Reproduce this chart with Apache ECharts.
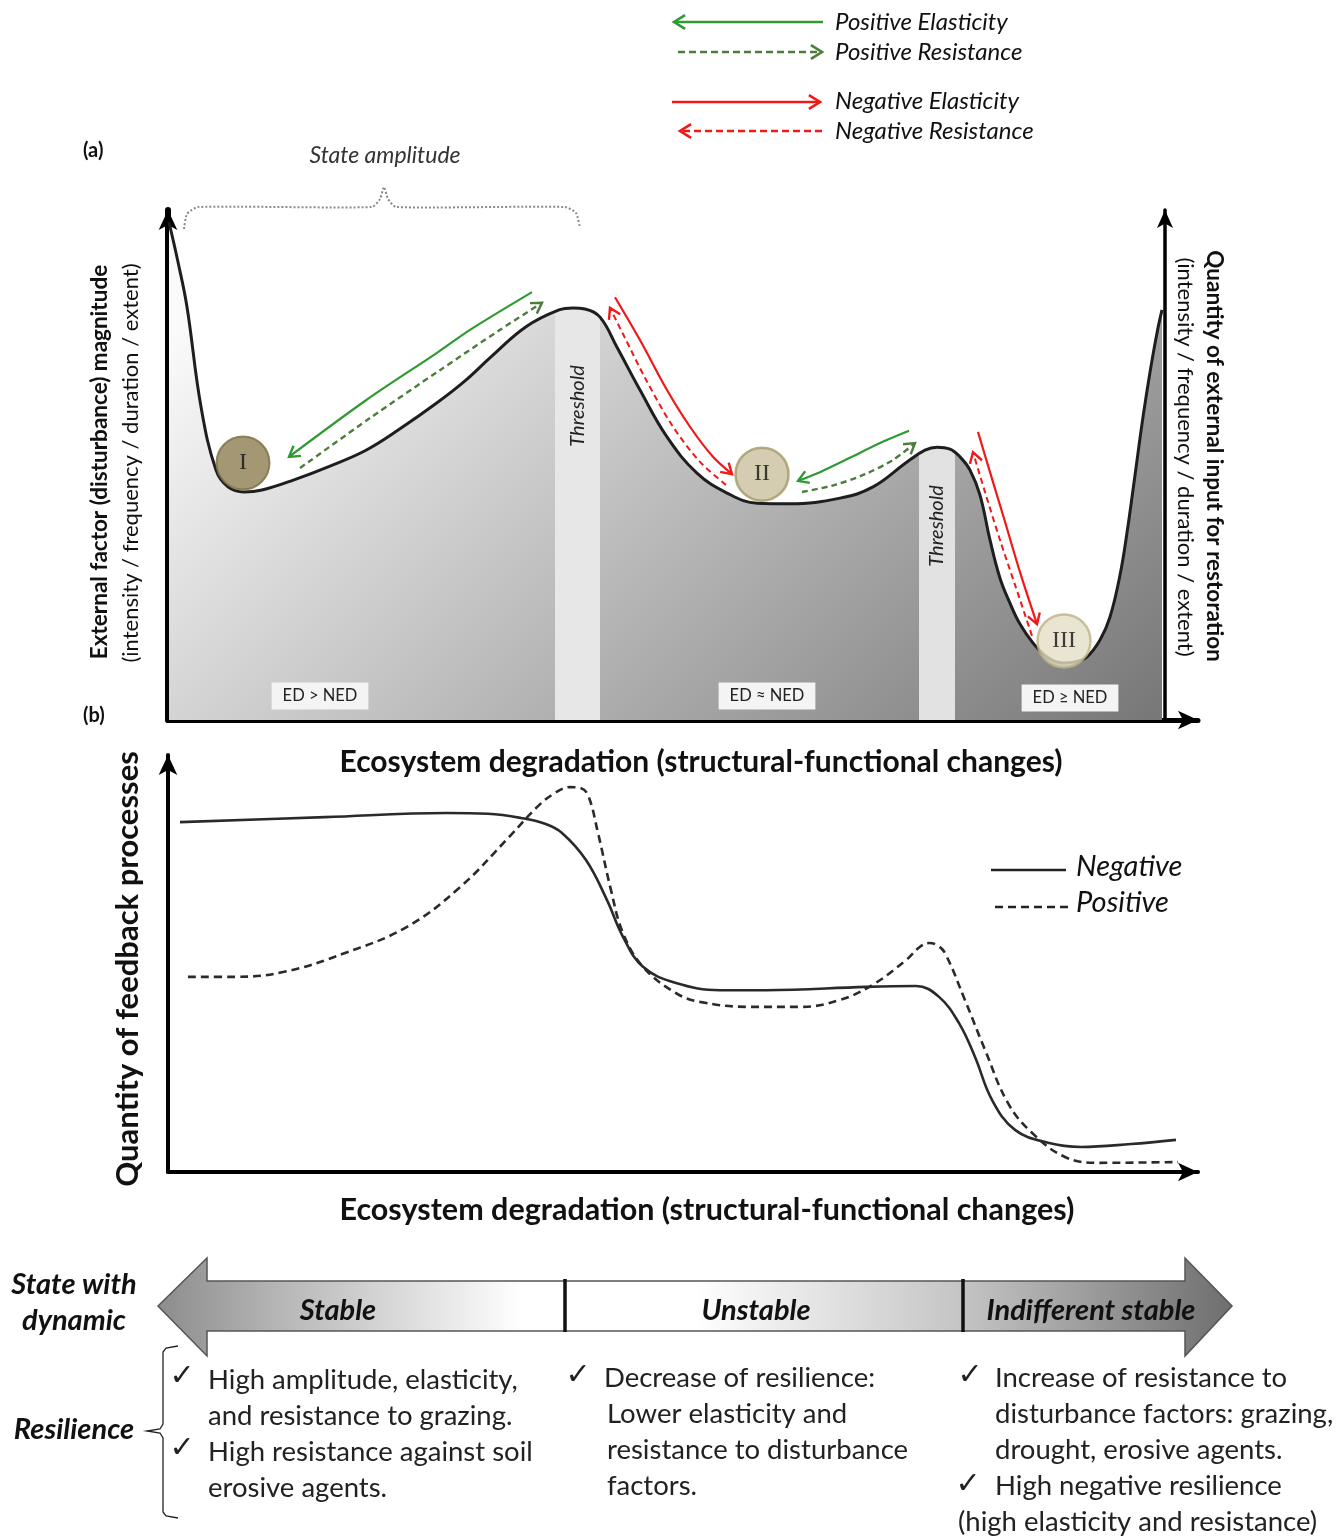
<!DOCTYPE html>
<html><head><meta charset="utf-8">
<script src="https://cdn.jsdelivr.net/npm/echarts@6/dist/echarts.min.js"></script>
<style>html,body{margin:0;padding:0;background:#fff}#c{width:1341px;height:1537px}</style>
</head><body><div id="c"></div>
<script>
// ---------- DATA (x: degradation 0-103, y: magnitude 0-100) ----------
const LANDSCAPE = [[0.1,97.6],[1.0,89.8],[1.9,81.0],[3.3,61.4],[4.8,49.0],[6.0,45.7],[7.6,44.7],[9.4,45.1],[12.6,47.1],[16.2,49.8],[19.8,52.9],[23.2,57.1],[26.9,62.2],[29.7,66.5],[32.3,71.2],[35.8,77.1],[39.1,80.4],[40.5,80.8],[41.7,80.6],[43.2,79.0],[44.9,73.1],[47.2,64.7],[49.9,55.5],[52.9,48.4],[55.9,44.5],[58.9,42.5],[62.2,42.4],[67.2,43.5],[70.5,45.7],[73.9,50.6],[75.7,52.9],[76.9,53.5],[78.2,53.1],[79.2,51.6],[80.2,49.0],[81.2,44.1],[82.2,35.3],[83.2,27.8],[84.2,22.9],[85.2,18.8],[86.5,15.1],[88.0,12.2],[89.5,11.2],[90.7,11.4],[91.9,12.4],[93.2,15.7],[94.2,20.2],[95.2,28.4],[95.9,36.7],[96.7,48.0],[97.5,59.4],[98.2,68.2],[98.9,75.9],[99.4,80.4]];
const THRESHOLDS = [[38.7,43.2],[75.1,78.7]];
const BALLS = [[7.5,50.4,'I'],[59.4,48.2,'II'],[89.6,15.5,'III']];
const ED_LABELS = ['ED > NED','ED ≈ NED','ED ≥ NED'];
const POS_ELASTICITY_1 = [[36.4,83.9],[30.2,76.5],[26.9,72.0],[19.8,62.7],[12.1,51.6]];
const POS_RESISTANCE_1 = [[13.2,49.4],[20.2,59.2],[27.2,68.6],[33.2,76.5],[37.4,81.8]];
const NEG_ELASTICITY_1 = [[44.7,82.9],[47.2,74.5],[49.9,64.7],[52.2,57.5],[54.5,51.6],[56.4,48.2]];
const NEG_RESISTANCE_1 = [[55.8,46.1],[53.2,50.6],[50.4,57.8],[47.7,67.1],[45.7,74.9],[44.2,80.8]];
const POS_ELASTICITY_2 = [[74.1,56.7],[71.2,54.3],[68.2,51.4],[65.2,48.6],[63.0,46.9]];
const POS_RESISTANCE_2 = [[63.4,44.7],[66.7,46.1],[69.7,48.2],[72.5,51.0],[74.7,54.3]];
const NEG_ELASTICITY_2 = [[81.0,56.5],[82.2,48.6],[83.5,40.2],[85.2,29.0],[86.9,18.8]];
const NEG_RESISTANCE_2 = [[86.4,16.5],[84.7,26.5],[83.2,35.3],[81.7,44.7],[80.5,52.5]];
const NEGATIVE_FEEDBACK = [[1.2,83.9],[15.7,85.1],[27.9,86.1],[32.0,85.9],[35.3,84.9],[37.7,83.5],[39.4,81.3],[41.8,74.8],[43.9,65.2],[45.5,56.4],[47.5,49.2],[50.8,45.3],[55.2,43.6],[59.8,43.6],[69.8,44.4],[74.8,44.6],[77.1,42.0],[79.1,35.7],[80.7,27.6],[82.4,17.3],[84.7,10.1],[88.0,7.0],[91.3,6.0],[96.3,6.7],[100.8,7.7]];
const POSITIVE_FEEDBACK = [[2.0,46.8],[6.7,46.8],[11.6,48.0],[17.7,52.5],[23.9,58.8],[29.2,68.3],[34.1,80.3],[36.9,87.5],[38.7,90.9],[40.2,92.3],[41.2,92.1],[42.0,90.4],[43.0,81.3],[44.3,67.6],[45.5,57.3],[47.5,49.2],[50.8,42.9],[53.2,40.8],[58.2,39.6],[63.2,39.6],[67.1,41.2],[70.4,44.8],[73.8,50.8],[75.2,54.0],[76.1,54.9],[76.9,54.4],[77.7,52.5],[79.7,41.2],[81.7,29.3],[84.0,16.5],[86.4,9.4],[89.7,3.6],[93.0,2.2],[101.0,2.4]];
const STATES = ['Stable','Unstable','Indifferent stable'];

const GREEN = '#2f9a33', DGREEN = '#4d7c3c', RED = '#f01818';
const ARROWS = [
  {pts: POS_ELASTICITY_1, color: GREEN, dash: null, w: 2.2},
  {pts: POS_RESISTANCE_1, color: DGREEN, dash: [6,4], w: 2.4},
  {pts: NEG_ELASTICITY_1, color: RED, dash: null, w: 2.2},
  {pts: NEG_RESISTANCE_1, color: RED, dash: [6,4], w: 2},
  {pts: POS_ELASTICITY_2, color: GREEN, dash: null, w: 2.2},
  {pts: POS_RESISTANCE_2, color: DGREEN, dash: [6,4], w: 2.4},
  {pts: NEG_ELASTICITY_2, color: RED, dash: null, w: 2.2},
  {pts: NEG_RESISTANCE_2, color: RED, dash: [6,4], w: 2}
];

const SANS = 'Lato, "Open Sans", sans-serif';
const chart = echarts.init(document.getElementById('c'));

function head(end, prev, L) {
  const ang = Math.atan2(end[1]-prev[1], end[0]-prev[0]);
  const W = 0.55;
  return [[end[0]-L*Math.cos(ang-W), end[1]-L*Math.sin(ang-W)], end, [end[0]-L*Math.cos(ang+W), end[1]-L*Math.sin(ang+W)]];
}
function T(x, y, text, font, o) {
  o = o || {};
  return {type:'text', x:x, y:y, rotation:o.rot||0, z:100,
    style:{text:text, x:0, y:0, font:font, fill:o.fill||'#111',
      align:o.align||'center', textAlign:o.align||'center',
      verticalAlign:o.va||'middle', textVerticalAlign:o.va||'middle',
      backgroundColor:o.bg, padding:o.pad}};
}
function legArrow(x1, y1, x2, y2, color, dash, w) {
  return {type:'group', z:100, children:[
    {type:'line', shape:{x1:x1,y1:y1,x2:x2,y2:y2}, style:{stroke:color, lineWidth:w, lineDash:dash}},
    {type:'polyline', shape:{points:head([x2,y2],[x1,y1],13)}, style:{stroke:color, lineWidth:w, fill:null}}
  ]};
}

const graphics = [
  legArrow(823,22,674,22,GREEN,null,2.6),
  legArrow(678,52,822,52,DGREEN,[7,4],2.6),
  legArrow(672,102,820,102,RED,null,2.6),
  legArrow(822,131,680,131,RED,[7,4],2.6),
  T(835,22,'Positive Elasticity','italic 24px '+SANS,{align:'left'}),
  T(835,52,'Positive Resistance','italic 24px '+SANS,{align:'left'}),
  T(835,101,'Negative Elasticity','italic 24px '+SANS,{align:'left'}),
  T(835,131,'Negative Resistance','italic 24px '+SANS,{align:'left'}),
  T(83,151,'(a)','bold 20px '+SANS,{align:'left'}),
  T(83,716,'(b)','bold 20px '+SANS,{align:'left'}),
  T(385,156,'State amplitude','italic 23px '+SANS,{fill:'#333'}),
  {type:'polyline', z:100, shape:{points:[[184,229],[187,214],[198,207],[372,207],[380,199],[384,187],[388,199],[396,207],[565,207],[576,213],[580,228]], smooth:0.2},
    style:{stroke:'#8a8a8a', lineWidth:2, lineDash:[2,2], fill:null}},
  T(100,462,'External factor (disturbance) magnitude','bold 22.5px '+SANS,{rot:Math.PI/2}),
  T(131,463,'(intensity / frequency / duration / extent)','22px '+SANS,{rot:Math.PI/2}),
  T(1214,456,'Quantity of external input for restoration','bold 22.5px '+SANS,{rot:-Math.PI/2}),
  T(1185,457,'(intensity / frequency / duration / extent)','22px '+SANS,{rot:-Math.PI/2}),
  T(578,406,'Threshold','italic 20px '+SANS,{rot:Math.PI/2,fill:'#222'}),
  T(937,526,'Threshold','italic 20px '+SANS,{rot:Math.PI/2,fill:'#222'}),
  T(320,696,ED_LABELS[0],'16.5px '+SANS,{bg:'#f4f4f4',pad:[5,11],fill:'#222'}),
  T(767,696,ED_LABELS[1],'16.5px '+SANS,{bg:'#f4f4f4',pad:[5,11],fill:'#222'}),
  T(1070,698,ED_LABELS[2],'16.5px '+SANS,{bg:'#f4f4f4',pad:[5,11],fill:'#222'}),
  T(701,762,'Ecosystem degradation (structural-functional changes)','bold 30px '+SANS),
  T(707,1210,'Ecosystem degradation (structural-functional changes)','bold 30.5px '+SANS),
  T(128,969,'Quantity of feedback processes','bold 31px '+SANS,{rot:Math.PI/2}),
  {type:'line', z:100, shape:{x1:991,y1:870,x2:1066,y2:870}, style:{stroke:'#222',lineWidth:2.5}},
  {type:'line', z:100, shape:{x1:995,y1:907,x2:1068,y2:907}, style:{stroke:'#222',lineWidth:2.5,lineDash:[8,5]}},
  T(1076,867,'Negative','italic 29px '+SANS,{align:'left'}),
  T(1076,903,'Positive','italic 29px '+SANS,{align:'left'}),
  // big state arrow
  {type:'polygon', z:100, shape:{points:[[158,1306],[207,1258],[207,1281],[1185,1281],[1185,1258],[1232,1306],[1185,1356],[1185,1331],[207,1331],[207,1356]]},
    style:{stroke:'#555', lineWidth:1.5, fill:{type:'linear',x:0,y:0,x2:1,y2:0,colorStops:[
      {offset:0,color:'#8c8c8c'},{offset:0.12,color:'#b8b8b8'},{offset:0.34,color:'#ffffff'},{offset:0.5,color:'#ffffff'},{offset:0.75,color:'#c4c4c4'},{offset:1,color:'#6e6e6e'}]}}},
  {type:'line', z:101, shape:{x1:565,y1:1279,x2:565,y2:1332}, style:{stroke:'#111',lineWidth:3.5}},
  {type:'line', z:101, shape:{x1:963,y1:1279,x2:963,y2:1332}, style:{stroke:'#111',lineWidth:3.5}},
  T(338,1311,STATES[0],'italic bold 29px '+SANS),
  T(756,1311,STATES[1],'italic bold 29px '+SANS),
  T(1091,1311,STATES[2],'italic bold 29px '+SANS),
  T(74,1285,'State with','italic bold 29px '+SANS),
  T(74,1321,'dynamic','italic bold 29px '+SANS),
  T(74,1430,'Resilience','italic bold 29px '+SANS),
  {type:'polyline', z:100, shape:{points:[[178,1346],[166,1348],[163,1352],[163,1424],[160,1429],[147,1431],[160,1433],[163,1438],[163,1512],[166,1516],[178,1518]]},
    style:{stroke:'#222', lineWidth:1.3, fill:null}}
];
const BUL = '27.5px '+SANS;
const bullets = [
  [182,1377,'✓',true],[208,1380,'High amplitude, elasticity,'],[208,1416,'and resistance to grazing.'],
  [182,1449,'✓',true],[208,1452,'High resistance against soil'],[208,1488,'erosive agents.'],
  [578,1376,'✓',true],[604,1378,'Decrease of resilience:'],[607,1414,'Lower elasticity and'],[607,1450,'resistance to disturbance'],[607,1486,'factors.'],
  [970,1376,'✓',true],[995,1378,'Increase of resistance to'],[995,1414,'disturbance factors: grazing,'],[995,1450,'drought, erosive agents.'],
  [968,1485,'✓',true],[995,1486,'High negative resilience'],[958,1522,'(high elasticity and resistance)']
];
bullets.forEach(b => graphics.push(T(b[0], b[1], b[2], b[3] ? '30px "DejaVu Sans"' : BUL, {align: b[3]?'center':'left', fill:'#222'})));

const pieces = [{lt:THRESHOLDS[0][0], color:'rgba(0,0,0,0)'}];
THRESHOLDS.forEach((t,i) => {
  pieces.push({gte:t[0], lt:t[1], color: i===0 ? '#e7e7e7' : '#e2e2e2'});
  pieces.push(i < THRESHOLDS.length-1 ? {gte:t[1], lt:THRESHOLDS[i+1][0], color:'rgba(0,0,0,0)'} : {gte:t[1], color:'rgba(0,0,0,0)'});
});

const noAxisBits = {axisTick:{show:false}, axisLabel:{show:false}, splitLine:{show:false}};
const SM = 0.4;
chart.setOption({
  animation:false,
  backgroundColor:'#fff',
  grid:[{left:168, top:210, width:1030, height:510}, {left:168, top:755, width:1030, height:417}],
  xAxis:[
    Object.assign({type:'value', gridIndex:0, min:0, max:103, axisLine:{symbol:['none','arrow'], symbolSize:[14,20], lineStyle:{color:'#000', width:5}}}, noAxisBits),
    Object.assign({type:'value', gridIndex:1, min:0, max:103, axisLine:{symbol:['none','arrow'], symbolSize:[14,20], lineStyle:{color:'#000', width:4}}}, noAxisBits)
  ],
  yAxis:[
    Object.assign({type:'value', gridIndex:0, min:0, max:100, axisLine:{symbol:['none','arrow'], symbolSize:[14,20], lineStyle:{color:'#000', width:6}}}, noAxisBits),
    Object.assign({type:'value', gridIndex:0, min:0, max:100, position:'right', offset:-33, axisLine:{show:true, symbol:['none','arrow'], symbolSize:[12,18], lineStyle:{color:'#000', width:3.5}}}, noAxisBits),
    Object.assign({type:'value', gridIndex:1, min:0, max:100, axisLine:{symbol:['none','arrow'], symbolSize:[14,20], lineStyle:{color:'#000', width:4}}}, noAxisBits)
  ],
  visualMap:[{type:'piecewise', show:false, seriesIndex:1, dimension:0, pieces:pieces}],
  series:[
    {type:'line', xAxisIndex:0, yAxisIndex:0, data:LANDSCAPE, smooth:SM, showSymbol:false, z:1,
      lineStyle:{width:0, opacity:0},
      areaStyle:{opacity:1, color:{type:'linear', x:233, y:279, x2:933, y2:1024, global:true,
        colorStops:[{offset:0,color:'#fafafa'},{offset:1,color:'#6e6e6e'}]}}},
    {type:'line', xAxisIndex:0, yAxisIndex:0, data:LANDSCAPE, smooth:SM, showSymbol:false, z:2,
      lineStyle:{width:0, opacity:0}, areaStyle:{opacity:1}},
    {type:'line', xAxisIndex:0, yAxisIndex:0, data:LANDSCAPE, smooth:SM, showSymbol:false, z:3,
      lineStyle:{color:'#1e1e1e', width:3}},
    {type:'custom', xAxisIndex:0, yAxisIndex:0, z:4, data:ARROWS.map(a => a.pts[0]),
      renderItem:function(params, api){
        const a = ARROWS[params.dataIndex];
        const pts = a.pts.map(p => api.coord(p));
        const n = pts.length;
        return {type:'group', children:[
          {type:'polyline', shape:{points:pts, smooth:0.3}, style:{stroke:a.color, lineWidth:a.w, lineDash:a.dash, fill:null}},
          {type:'polyline', shape:{points:head(pts[n-1], pts[n-2], 12)}, style:{stroke:a.color, lineWidth:2.4, fill:null}}
        ]};
      }},
    {type:'scatter', xAxisIndex:0, yAxisIndex:0, z:5, symbolSize:53,
      data:[
        {value:BALLS[0], itemStyle:{color:'#8c7e50', borderColor:'#7b6d40', borderWidth:2}},
        {value:BALLS[1], itemStyle:{color:'#c9c19d', borderColor:'#a39866', borderWidth:2.5}},
        {value:BALLS[2], itemStyle:{color:'#e3dfc6', borderColor:'#bbb386', borderWidth:2.5}}
      ],
      label:{show:true, position:'inside', formatter:p => p.value[2], color:'#111', fontFamily:'"Liberation Serif", serif', fontSize:24}},
    {type:'line', xAxisIndex:1, yAxisIndex:2, data:NEGATIVE_FEEDBACK, smooth:0.4, showSymbol:false,
      lineStyle:{color:'#2a2a2a', width:2.6}},
    {type:'line', xAxisIndex:1, yAxisIndex:2, data:POSITIVE_FEEDBACK, smooth:0.4, showSymbol:false,
      lineStyle:{color:'#2a2a2a', width:2.6, type:[8,5]}}
  ],
  graphic:graphics
});
</script></body></html>
